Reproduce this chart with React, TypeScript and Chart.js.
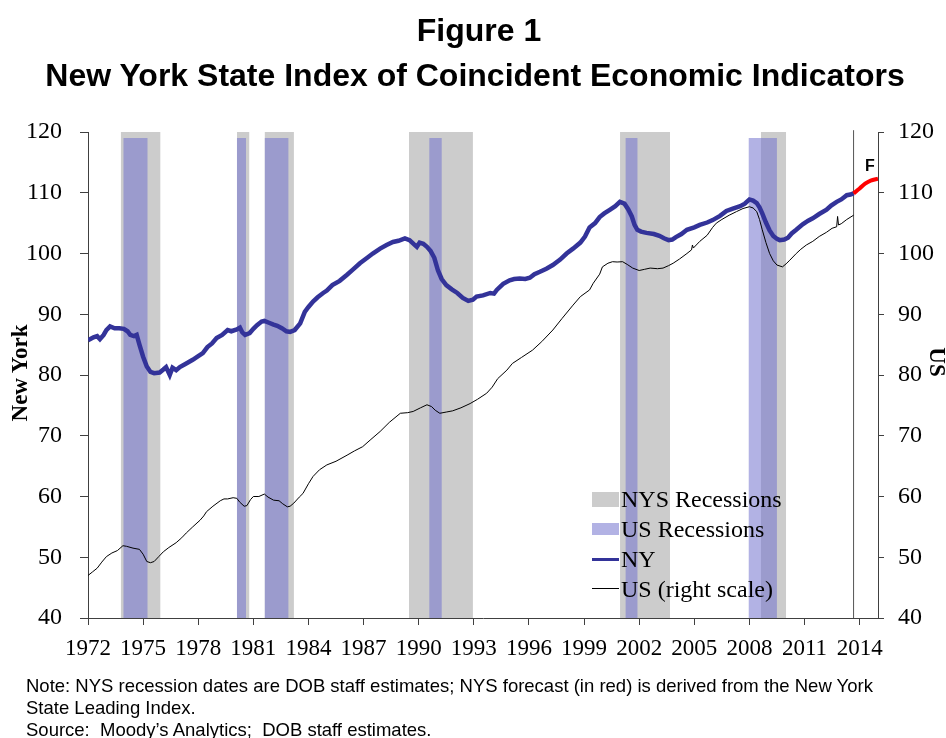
import React, { useEffect, useRef } from 'react';
import { Chart, registerables } from 'chart.js';

Chart.register(...registerables);

// ---------- data ----------
const xTickYears = [1972, 1975, 1978, 1981, 1984, 1987, 1990, 1993, 1996, 1999, 2002, 2005, 2008, 2011, 2014];
const yTickValues = [40, 50, 60, 70, 80, 90, 100, 110, 120];

const nysRecStart = [1973.78, 1980.11, 1981.61, 1989.47, 2000.96, 2008.62];
const nysRecEnd = [1975.95, 1980.79, 1983.21, 1992.95, 2003.68, 2010.0];
const usRecStart = [1973.92, 1980.1, 1981.61, 1990.57, 2001.25, 2007.95];
const usRecEnd = [1975.25, 1980.6, 1982.92, 1991.26, 2001.92, 2009.5];
const nysBandTop = 120;
const usBandTop = 119;

const nyYears = [
  1972.0, 1972.3, 1972.5, 1972.65, 1972.85, 1973.0, 1973.2, 1973.45, 1973.7, 1973.95,
  1974.15, 1974.3, 1974.5, 1974.65, 1974.8, 1975.0, 1975.2, 1975.4, 1975.6, 1975.9,
  1976.1, 1976.25, 1976.45, 1976.6, 1976.8, 1977.0, 1977.3, 1977.7, 1978.0, 1978.25,
  1978.5, 1978.75, 1979.0, 1979.3, 1979.6, 1979.8, 1980.1, 1980.27, 1980.4, 1980.55,
  1980.8, 1981.0, 1981.2, 1981.45, 1981.6, 1981.85, 1982.1, 1982.3, 1982.55, 1982.8,
  1983.0, 1983.25, 1983.55, 1983.8, 1984.0, 1984.25, 1984.5, 1984.8, 1985.0, 1985.3,
  1985.7, 1986.1, 1986.4, 1986.8, 1987.2, 1987.5, 1987.9, 1988.25, 1988.6, 1988.9,
  1989.25, 1989.5, 1989.75, 1989.9, 1990.05, 1990.25, 1990.45, 1990.65, 1990.85, 1991.05,
  1991.25, 1991.5, 1991.8, 1992.1, 1992.4, 1992.7, 1992.95, 1993.15, 1993.5, 1993.9,
  1994.1, 1994.25, 1994.6, 1994.95, 1995.2, 1995.5, 1995.8, 1996.05, 1996.3, 1996.6,
  1996.95, 1997.3, 1997.7, 1998.05, 1998.4, 1998.8, 1999.05, 1999.3, 1999.6, 1999.85,
  2000.1, 2000.4, 2000.7, 2000.95, 2001.2, 2001.4, 2001.6, 2001.75, 2001.9, 2002.1,
  2002.4, 2002.8, 2003.1, 2003.35, 2003.6, 2003.8, 2004.0, 2004.3, 2004.6, 2005.0,
  2005.3, 2005.7, 2006.0, 2006.4, 2006.75, 2007.1, 2007.5, 2007.75, 2008.0, 2008.2,
  2008.4, 2008.55, 2008.7, 2008.9, 2009.1, 2009.3, 2009.5, 2009.65, 2009.9, 2010.1,
  2010.3, 2010.55, 2010.9, 2011.2, 2011.45, 2011.8, 2012.2, 2012.45, 2012.75, 2013.0,
  2013.3, 2013.5, 2013.67,
];
const nyValues = [
  85.7, 86.2, 86.4, 85.9, 86.6, 87.4, 88.0, 87.7, 87.7, 87.6,
  87.2, 86.6, 86.4, 86.6, 85.0, 83.0, 81.4, 80.5, 80.3, 80.4,
  80.9, 81.3, 80.0, 81.2, 80.8, 81.3, 81.8, 82.5, 83.1, 83.6,
  84.6, 85.2, 86.1, 86.6, 87.4, 87.2, 87.5, 87.8, 87.0, 86.6,
  86.9, 87.6, 88.2, 88.8, 88.9, 88.6, 88.3, 88.1, 87.7, 87.2,
  87.1, 87.4, 88.5, 90.4, 91.2, 92.1, 92.8, 93.5, 93.9, 94.8,
  95.5, 96.5, 97.3, 98.4, 99.3, 100.0, 100.8, 101.4, 101.9, 102.1,
  102.5, 102.2, 101.5, 101.1, 101.8, 101.6, 101.1, 100.4, 99.3, 97.2,
  95.8, 94.8, 94.1, 93.5, 92.7, 92.2, 92.4, 92.9, 93.1, 93.5,
  93.4, 94.0, 95.0, 95.6, 95.8, 95.9, 95.8, 96.0, 96.6, 97.0,
  97.5, 98.1, 99.0, 100.0, 100.8, 101.8, 102.8, 104.3, 105.0, 106.0,
  106.6, 107.2, 107.8, 108.5, 108.2, 107.3, 106.1, 104.7, 103.9, 103.6,
  103.4, 103.2, 102.9, 102.5, 102.2, 102.3, 102.7, 103.2, 103.9, 104.3,
  104.7, 105.1, 105.5, 106.2, 107.0, 107.4, 107.8, 108.2, 108.9, 108.7,
  108.3, 107.6, 106.6, 105.1, 103.8, 102.9, 102.4, 102.2, 102.3, 102.6,
  103.3, 103.9, 104.8, 105.4, 105.8, 106.5, 107.2, 107.9, 108.5, 108.9,
  109.6, 109.7, 109.9,
];

const usYears = [
  1972.0, 1972.25, 1972.5, 1972.75, 1973.0, 1973.3, 1973.6, 1973.9, 1974.1, 1974.45,
  1974.8, 1975.0, 1975.2, 1975.4, 1975.6, 1975.85, 1976.1, 1976.4, 1976.8, 1977.1,
  1977.35, 1977.7, 1978.1, 1978.3, 1978.45, 1978.8, 1979.2, 1979.4, 1979.6, 1979.9,
  1980.1, 1980.25, 1980.5, 1980.65, 1980.85, 1981.0, 1981.3, 1981.6, 1981.8, 1982.1,
  1982.4, 1982.6, 1982.85, 1983.0, 1983.2, 1983.5, 1983.7, 1984.0, 1984.25, 1984.6,
  1985.0, 1985.5, 1986.1, 1986.5, 1986.95, 1987.4, 1987.9, 1988.4, 1989.0, 1989.4,
  1989.7, 1990.1, 1990.45, 1990.7, 1990.9, 1991.15, 1991.5, 1991.85, 1992.3, 1992.8,
  1993.2, 1993.7, 1994.0, 1994.3, 1994.8, 1995.1, 1995.6, 1996.2, 1996.7, 1997.3,
  1997.8, 1998.4, 1998.8, 1999.3, 1999.5, 1999.85, 2000.0, 2000.3, 2000.55, 2000.8,
  2001.1, 2001.35, 2001.65, 2002.0, 2002.3, 2002.6, 2003.0, 2003.3, 2003.6, 2003.85,
  2004.2, 2004.6, 2004.85, 2004.9, 2004.95, 2005.3, 2005.7, 2006.0, 2006.2, 2006.5,
  2006.9, 2007.3, 2007.65, 2008.0, 2008.2, 2008.4, 2008.55, 2008.7, 2008.9, 2009.1,
  2009.3, 2009.5, 2009.8, 2010.0, 2010.2, 2010.55, 2010.8, 2011.1, 2011.45, 2011.8,
  2012.2, 2012.5, 2012.75, 2012.8, 2012.85, 2013.0, 2013.3, 2013.67,
];
const usValues = [
  47.0, 47.6, 48.2, 49.2, 50.1, 50.7, 51.1, 51.9, 51.8, 51.5,
  51.3, 50.5, 49.3, 49.1, 49.3, 50.1, 50.9, 51.6, 52.4, 53.2,
  54.0, 55.0, 56.1, 56.8, 57.5, 58.4, 59.3, 59.6, 59.6, 59.8,
  59.7, 59.1, 58.4, 58.5, 59.5, 60.0, 60.0, 60.4, 59.9, 59.4,
  59.3, 58.8, 58.3, 58.4, 58.9, 59.9, 60.5, 62.1, 63.3, 64.4,
  65.2, 65.8, 66.8, 67.5, 68.2, 69.4, 70.7, 72.2, 73.7, 73.8,
  74.0, 74.6, 75.1, 74.8, 74.2, 73.7, 73.9, 74.1, 74.6, 75.3,
  76.0, 77.0, 78.0, 79.4, 80.8, 81.9, 82.9, 84.1, 85.5, 87.4,
  89.3, 91.5, 92.9, 94.0, 95.1, 96.6, 97.8, 98.4, 98.65, 98.6,
  98.65, 98.2, 97.6, 97.2, 97.4, 97.6, 97.5, 97.6, 98.0, 98.4,
  99.1, 100.0, 100.6, 101.4, 100.9, 102.0, 103.0, 104.3, 105.0, 105.6,
  106.3, 106.9, 107.4, 107.7, 107.5, 106.9, 105.6, 103.9, 101.8, 100.0,
  98.8, 98.1, 97.8, 98.3, 98.9, 100.0, 100.7, 101.4, 102.0, 102.8,
  103.5, 104.15, 104.4, 106.1, 104.7, 104.9, 105.6, 106.3,
];

const fcYears = [2013.67, 2014.0, 2014.3, 2014.6, 2015.0];
const fcValues = [109.9, 110.7, 111.5, 112.0, 112.3];
const forecastStart = 2013.67;

const titleLine1 = 'Figure 1';
const titleLine2 = 'New York State Index of Coincident Economic Indicators';
const legendLabels = ['NYS Recessions', 'US Recessions', 'NY', 'US (right scale)'];
const noteLines = [
  'Note: NYS recession dates are DOB staff estimates; NYS forecast (in red) is derived from the New York',
  'State Leading Index.',
  'Source:  Moody\u2019s Analytics;  DOB staff estimates.',
];

// ---------- styles ----------
const SERIF = "'Liberation Serif', 'Times New Roman', serif";
const SANS = "'Liberation Sans', Arial, sans-serif";
const GREY = '#cccccc';
const BLUE_BAND = 'rgba(115,115,206,0.55)';
const BLUE_SWATCH = 'rgb(178,178,228)';
const NY_COLOR = '#333399';
const AXIS = '#404040';

export default function App() {
  const canvasRef = useRef<HTMLCanvasElement>(null);

  useEffect(() => {
    const canvas = canvasRef.current;
    if (!canvas) return;

    const datasets: any[] = [];
    nysRecStart.forEach((s, i) => {
      datasets.push({
        label: 'nys' + i,
        data: [{ x: s, y: nysBandTop }, { x: nysRecEnd[i], y: nysBandTop }],
        fill: 'start',
        backgroundColor: GREY,
        borderColor: 'rgba(0,0,0,0)',
        borderWidth: 0,
        pointRadius: 0,
        yAxisID: 'y',
        order: 20,
      });
    });
    usRecStart.forEach((s, i) => {
      datasets.push({
        label: 'us' + i,
        data: [{ x: s, y: usBandTop }, { x: usRecEnd[i], y: usBandTop }],
        fill: 'start',
        backgroundColor: BLUE_BAND,
        borderColor: 'rgba(0,0,0,0)',
        borderWidth: 0,
        pointRadius: 0,
        yAxisID: 'y',
        order: 15,
      });
    });
    datasets.push({
      label: 'vline',
      data: [{ x: forecastStart, y: 40 }, { x: forecastStart, y: 120.3 }],
      borderColor: '#555555',
      borderWidth: 1,
      pointRadius: 0,
      fill: false,
      yAxisID: 'y',
      order: 10,
      clip: 4,
    });
    datasets.push({
      label: 'US (right scale)',
      data: usYears.map((x, i) => ({ x, y: usValues[i] })),
      borderColor: '#000000',
      borderWidth: 1,
      pointRadius: 0,
      fill: false,
      tension: 0,
      yAxisID: 'y1',
      order: 5,
    });
    datasets.push({
      label: 'NY',
      data: nyYears.map((x, i) => ({ x, y: nyValues[i] })),
      borderColor: NY_COLOR,
      borderWidth: 4.5,
      pointRadius: 0,
      fill: false,
      tension: 0,
      yAxisID: 'y',
      order: 2,
    });
    datasets.push({
      label: 'Forecast',
      data: fcYears.map((x, i) => ({ x, y: fcValues[i] })),
      borderColor: '#ff0000',
      borderWidth: 4,
      pointRadius: 0,
      fill: false,
      tension: 0.3,
      yAxisID: 'y',
      order: 1,
    });

    const yScale = (position: 'left' | 'right', width: number, tickLength: number, padding: number) => ({
      type: 'linear' as const,
      position,
      min: 40,
      max: 120,
      afterBuildTicks: (s: any) => {
        s.ticks = yTickValues.map((v) => ({ value: v }));
      },
      ticks: {
        font: { family: SERIF, size: 24 },
        color: '#000000',
        padding,
        callback: (v: any) => String(v),
      },
      grid: { drawOnChartArea: false, drawTicks: true, tickLength, color: AXIS },
      border: { display: true, color: AXIS, width: 1 },
      afterFit: (s: any) => {
        s.width = width;
      },
    });

    const chart = new Chart(canvas, {
      type: 'line',
      data: { datasets },
      options: {
        animation: false,
        responsive: true,
        maintainAspectRatio: false,
        events: [],
        layout: { padding: { top: 132, left: 0, right: 0, bottom: 0 } },
        plugins: {
          legend: { display: false },
          tooltip: { enabled: false },
          title: { display: false },
        },
        scales: {
          x: {
            type: 'linear',
            min: 1972,
            max: 2015,
            afterBuildTicks: (s: any) => {
              s.ticks = xTickYears.map((v) => ({ value: v }));
            },
            ticks: {
              font: { family: SERIF, size: 23 },
              color: '#000000',
              padding: 10,
              maxRotation: 0,
              autoSkip: false,
              callback: (v: any) => String(v),
            },
            grid: { drawOnChartArea: false, drawTicks: true, tickLength: 7, color: AXIS },
            border: { display: true, color: AXIS, width: 1 },
            afterFit: (s: any) => {
              s.height = 120;
            },
          },
          y: yScale('left', 88, 8, 18),
          y1: yScale('right', 68, 6, 14),
        } as any,
      },
    });
    return () => chart.destroy();
  }, []);

  const abs = (style: React.CSSProperties): React.CSSProperties => ({ position: 'absolute', margin: 0, ...style });

  const legendTop = [486.6, 516.6, 546.6, 576.6];

  return (
    <div style={abs({ left: 0, top: 0, width: 946, height: 738, overflow: 'hidden', background: '#ffffff' })}>
      <div style={abs({ left: 0, top: 0, width: 946, height: 738 })}>
        <canvas ref={canvasRef} />
      </div>

      {/* titles */}
      <div
        style={abs({
          left: 0, top: 14.4, width: 958, textAlign: 'center', fontFamily: SANS, fontWeight: 'bold',
          fontSize: 32, lineHeight: '32px', whiteSpace: 'nowrap', color: '#000',
        })}
      >
        {titleLine1}
      </div>
      <div
        style={abs({
          left: 0, top: 59.4, width: 950, textAlign: 'center', fontFamily: SANS, fontWeight: 'bold',
          fontSize: 32, lineHeight: '32px', whiteSpace: 'nowrap', color: '#000',
        })}
      >
        {titleLine2}
      </div>

      {/* axis titles */}
      <div
        style={abs({
          left: 20 - 100, top: 373 - 12, width: 200, height: 24, textAlign: 'center', fontFamily: SERIF,
          fontWeight: 'bold', fontSize: 23, lineHeight: '24px', transform: 'rotate(-90deg)', whiteSpace: 'nowrap',
        })}
      >
        New York
      </div>
      <div
        style={abs({
          left: 937 - 100, top: 362 - 12, width: 200, height: 24, textAlign: 'center', fontFamily: SERIF,
          fontWeight: 'bold', fontSize: 23, lineHeight: '24px', transform: 'rotate(90deg)', whiteSpace: 'nowrap',
        })}
      >
        US
      </div>

      {/* forecast marker */}
      <div
        style={abs({ left: 865, top: 158, fontFamily: SANS, fontWeight: 'bold', fontSize: 16, lineHeight: '16px' })}
      >
        F
      </div>

      {/* legend */}
      <div style={abs({ left: 592, top: 492, width: 27, height: 15, background: GREY })} />
      <div style={abs({ left: 592, top: 523, width: 27, height: 12, background: BLUE_SWATCH })} />
      <div style={abs({ left: 592, top: 558, width: 27, height: 3, background: NY_COLOR })} />
      <div style={abs({ left: 592, top: 588, width: 27, height: 1, background: '#000' })} />
      {legendLabels.map((t, i) => (
        <div
          key={t}
          style={abs({
            left: 621, top: legendTop[i], fontFamily: SERIF, fontSize: 24, lineHeight: '24px',
            whiteSpace: 'nowrap', color: '#000',
          })}
        >
          {t}
        </div>
      ))}

      {/* note */}
      {noteLines.map((t, i) => (
        <div
          key={i}
          style={abs({
            left: 26, top: 674.6 + i * 22, fontFamily: SANS, fontSize: 18.5, lineHeight: '22px',
            whiteSpace: 'pre', color: '#000',
          })}
        >
          {t}
        </div>
      ))}
    </div>
  );
}
